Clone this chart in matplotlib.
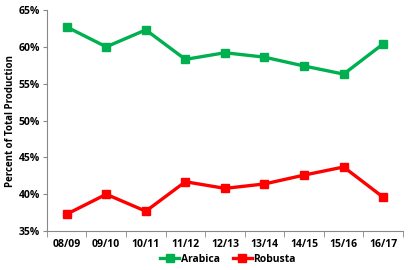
import matplotlib.pyplot as plt
import numpy as np

seasons = ["08/09", "09/10", "10/11", "11/12", "12/13", "13/14", "14/15", "15/16", "16/17"]
arabica = [62.7, 60.0, 62.3, 58.3, 59.2, 58.6, 57.4, 56.3, 60.4]
robusta = [37.3, 40.0, 37.7, 41.7, 40.8, 41.4, 42.6, 43.7, 39.6]

plt.rcParams['font.family'] = ['Open Sans', 'DejaVu Sans']
plt.rcParams['font.weight'] = 'bold'

fig = plt.figure(figsize=(4.15, 2.7), dpi=100)
ax = fig.add_axes([0.113, 0.144, 0.858, 0.819])

x = np.arange(len(seasons))
ax.plot(x, arabica, color="#00B050", lw=2.4, marker="s", ms=5.5, label="Arabica")
ax.plot(x, robusta, color="#FF0000", lw=2.4, marker="s", ms=5.5, label="Robusta")

ax.set_xlim(-0.5, len(seasons) - 0.5)
ax.set_ylim(35, 65)
ax.set_yticks(range(35, 66, 5))
ax.set_yticklabels([f"{v}%" for v in range(35, 66, 5)], fontsize=7.5, fontweight='bold')
ax.set_xticks(x)
ax.set_xticklabels(seasons, fontsize=7.5, fontweight='bold')
ax.set_xticks(np.arange(-0.5, len(seasons)), minor=True)
ax.tick_params(axis='x', which='major', length=0, pad=6)
ax.tick_params(axis='x', which='minor', length=4, color="#888888")
ax.tick_params(axis='y', length=3, color="#888888", pad=2)

for s in ["top", "right"]:
    ax.spines[s].set_visible(False)
for s in ["left", "bottom"]:
    ax.spines[s].set_color("#888888")
    ax.spines[s].set_linewidth(0.8)

ax.set_ylabel("Percent of Total Production", fontsize=7, fontweight='bold')
ax.yaxis.set_label_coords(-0.088, 0.5)

fig.legend(loc="lower center", bbox_to_anchor=(0.55, -0.015), ncol=2, frameon=False,
           handlelength=1.8, columnspacing=1.2, handletextpad=0.2,
           prop={'weight': 'bold', 'size': 7.5})

fig.savefig("out.png", dpi=100)
